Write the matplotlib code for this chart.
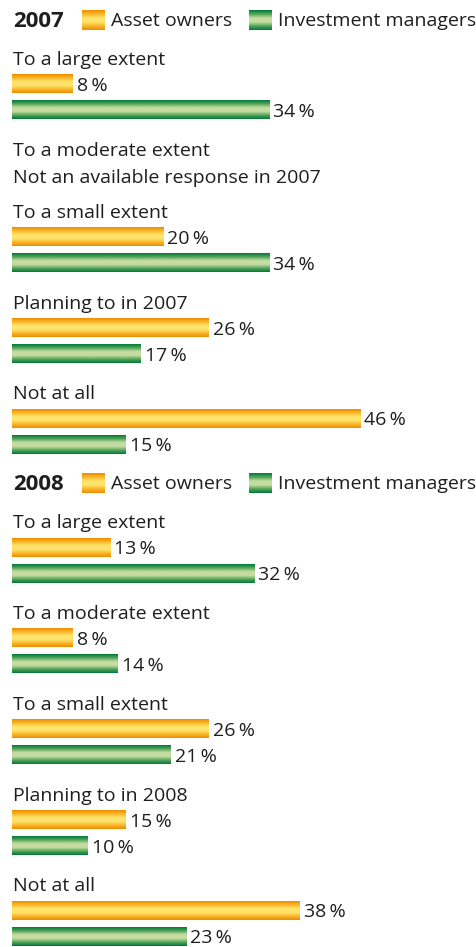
import numpy as np
import matplotlib.pyplot as plt
from matplotlib.colors import LinearSegmentedColormap

categories_2007 = ["To a large extent", "To a moderate extent", "To a small extent",
                   "Planning to in 2007", "Not at all"]
owners_2007 = [8, None, 20, 26, 46]
managers_2007 = [34, None, 34, 17, 15]
na_note_2007 = "Not an available response in 2007"

categories_2008 = ["To a large extent", "To a moderate extent", "To a small extent",
                   "Planning to in 2008", "Not at all"]
owners_2008 = [13, 8, 26, 15, 38]
managers_2008 = [32, 14, 21, 10, 23]

series_names = ["Asset owners", "Investment managers"]

# vertical gradients: dark edge -> light middle -> dark edge
orange_cm = LinearSegmentedColormap.from_list(
    "orange", ["#f08c00", "#f8b82c", "#ffe46c", "#ffe46c", "#f8b82c", "#f08c00"])
green_cm = LinearSegmentedColormap.from_list(
    "green", ["#007a35", "#55a55a", "#c6dda2", "#c6dda2", "#55a55a", "#007a35"])
grad = np.linspace(0, 1, 64).reshape(-1, 1)

TEXT = "#1e1e1e"
FONT = ["Open Sans", "DejaVu Sans"]
FS = 14

fig = plt.figure(figsize=(4.77, 9.47), dpi=100)
ax = fig.add_axes([0, 0, 1, 1])
px = 7.57  # pixels per percent
ax.set_xlim(-12 / px, (477 - 12) / px)
ax.set_ylim(947, 0)
ax.axis("off")

bar_h = 19


def gbar(y, value, cmap):
    ax.imshow(grad, cmap=cmap, aspect="auto", extent=(0, value, y + bar_h / 2, y - bar_h / 2),
              interpolation="bilinear", zorder=2)
    ax.text(value + 4 / px, y + 2, f"{value}\u2009%", fontsize=FS, color=TEXT, family=FONT,
            va="center", ha="left")


def header(y, year):
    ax.text(0.1, y + 1, year, fontsize=16, fontweight="bold", color=TEXT, family=FONT,
            va="center", ha="left")
    for x0, cmap, name in [(82, orange_cm, series_names[0]), (249, green_cm, series_names[1])]:
        xa = (x0 - 12) / px
        ax.imshow(grad, cmap=cmap, aspect="auto", extent=(xa, xa + 23 / px, y + 10, y - 10),
                  interpolation="bilinear")
        ax.text(xa + 29 / px, y + 1, name, fontsize=FS, color=TEXT, family=FONT,
                va="center", ha="left")


def section(y, year, cats, own, man, note=None):
    header(y, year)
    y += 38
    for cat, o, m in zip(cats, own, man):
        ax.text(0.1, y + 2, cat, fontsize=FS, color=TEXT, family=FONT, va="center", ha="left")
        if o is None:
            ax.text(0.1, y + 29, note, fontsize=FS, color=TEXT, family=FONT,
                    va="center", ha="left")
            y += 62
            continue
        gbar(y + 26, o, orange_cm)
        gbar(y + 52, m, green_cm)
        y += 90.8
    return y


y = section(20, "2007", categories_2007, owners_2007, managers_2007, na_note_2007)
section(y, "2008", categories_2008, owners_2008, managers_2008)

fig.savefig("out.png", dpi=100)
